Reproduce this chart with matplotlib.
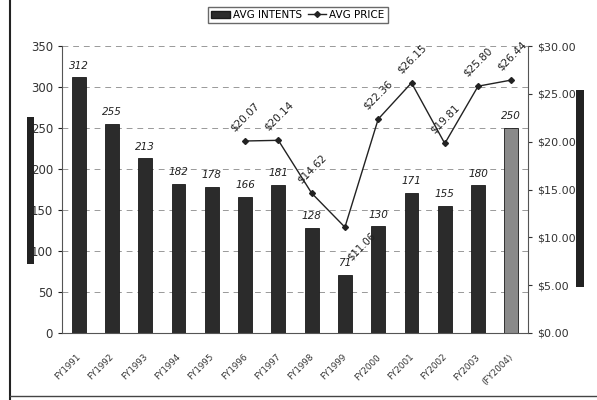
import matplotlib
matplotlib.use("Agg")
import matplotlib.pyplot as plt
import matplotlib.transforms as mtransforms
from matplotlib.patches import Rectangle
from matplotlib.lines import Line2D

years = ["FY1991", "FY1992", "FY1993", "FY1994", "FY1995", "FY1996", "FY1997",
         "FY1998", "FY1999", "FY2000", "FY2001", "FY2002", "FY2003", "(FY2004)"]
intents = [312, 255, 213, 182, 178, 166, 181, 128, 71, 130, 171, 155, 180, 250]
price_years = ["FY1996", "FY1997", "FY1998", "FY1999", "FY2000", "FY2001",
               "FY2002", "FY2003", "(FY2004)"]
prices = [20.07, 20.14, 14.62, 11.06, 22.36, 26.15, 19.81, 25.80, 26.44]
left_ticks = [0, 50, 100, 150, 200, 250, 300, 350]
right_ticks = [0, 5, 10, 15, 20, 25, 30]

W, H = 597, 400
fig = plt.figure(figsize=(W / 100, H / 100), dpi=100)
fig.patch.set_facecolor("white")
ax = fig.add_axes([62 / W, 1 - 333 / H, (528 - 62) / W, (333 - 46) / H])

x = list(range(len(years)))
colors = ["#2b2b2b"] * (len(years) - 1) + ["#8a8a8a"]
ax.bar(x, intents, width=0.42, color=colors, edgecolor="#1a1a1a", linewidth=0.6, zorder=2)
ax.set_ylim(0, 350)
ax.set_xlim(-0.5, len(years) - 0.5)
ax.set_yticks(left_ticks)
ax.tick_params(axis="y", labelsize=8.5, colors="#222", length=3)
for t in ax.get_yticklabels():
    t.set_color("#333")
ax.set_xticks(x)
ax.set_xticklabels(years, rotation=45, ha="right", fontsize=6.3, color="#333")
ax.tick_params(axis="x", length=0, pad=14)
offset = mtransforms.ScaledTranslation(4 / 100, 0, fig.dpi_scale_trans)
for lab in ax.get_xticklabels():
    lab.set_transform(lab.get_transform() + offset)
for v in left_ticks[1:]:
    ax.axhline(v, color="#999", linestyle=(0, (6, 5)), linewidth=0.7, zorder=1)
for s in ["top", "right"]:
    ax.spines[s].set_visible(False)
ax.spines["left"].set_color("#555")
ax.spines["bottom"].set_color("#555")
for xi, v in zip(x, intents):
    ax.text(xi, v + 8, str(v), ha="center", va="bottom", fontsize=7.5, style="italic",
            color="#222")

ax2 = ax.twinx()
ax2.set_ylim(0, 30)
ax2.set_yticks(right_ticks)
ax2.set_yticklabels([f"${v:.2f}" for v in right_ticks], fontsize=8, color="#333")
ax2.tick_params(axis="y", length=3, colors="#333")
for s in ["top", "left", "bottom"]:
    ax2.spines[s].set_visible(False)
ax2.spines["right"].set_color("#555")
px = [years.index(y) for y in price_years]
ax2.plot(px, prices, color="#222", linewidth=1.0, marker="D", markersize=3, zorder=3)
for xi, p in zip(px, prices):
    if p == 11.06:
        ax2.text(xi + 0.02, p - 0.3, f"${p:.2f}", ha="left", va="top", fontsize=7.2,
                 rotation=45, color="#222", zorder=5)
    else:
        ax2.text(xi, p + 0.8, f"${p:.2f}", ha="center", va="bottom", fontsize=7.5,
                 rotation=45, color="#222")

handles = [Rectangle((0, 0), 1, 1, facecolor="#2b2b2b", edgecolor="#1a1a1a"),
           Line2D([0], [0], color="#222", marker="D", markersize=3, linewidth=1.0)]
fig.legend(handles, ["AVG INTENTS", "AVG PRICE"], loc="center",
           bbox_to_anchor=(298 / W, 1 - 15 / H), ncol=2, fontsize=7.5, frameon=True,
           edgecolor="#444", fancybox=False, handlelength=1.8, columnspacing=0.5,
           handletextpad=0.3, borderpad=0.3)

# decorative side bars and frame
fig.patches.append(Rectangle((27 / W, 1 - 264 / H), 7 / W, 147 / H, transform=fig.transFigure,
                             facecolor="#222", edgecolor="none"))
fig.patches.append(Rectangle((576 / W, 1 - 287 / H), 8 / W, 197 / H, transform=fig.transFigure,
                             facecolor="#222", edgecolor="none"))
fig.add_artist(Line2D([10 / W, 10 / W], [0, 1], transform=fig.transFigure, color="#222",
                      linewidth=1.5))
fig.add_artist(Line2D([10 / W, 1], [1 - 396 / H, 1 - 396 / H], transform=fig.transFigure,
                      color="#444", linewidth=1.0))

fig.savefig("out.png", dpi=100)
